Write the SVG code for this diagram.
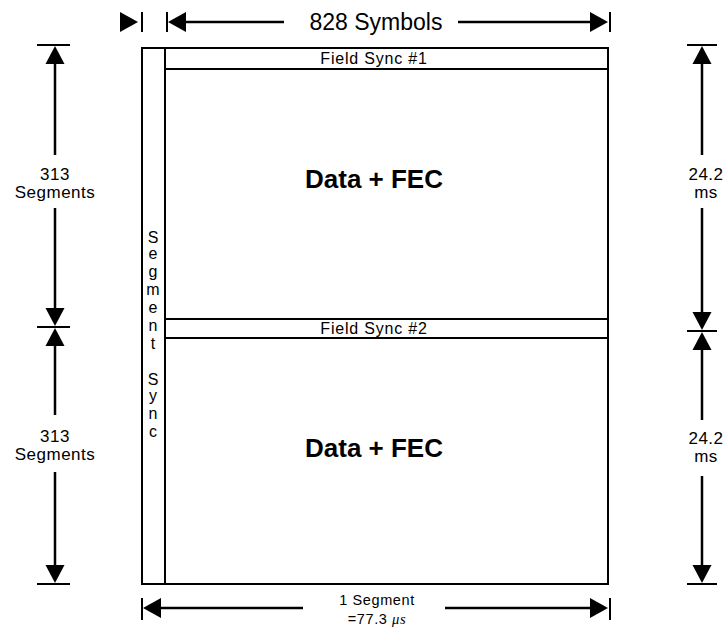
<svg xmlns="http://www.w3.org/2000/svg" width="727" height="628" viewBox="0 0 727 628">
<style>
  .ln { stroke:#000; stroke-width:2; fill:none; }
  .dim { stroke:#000; stroke-width:2.5; fill:none; }
  .tick { stroke:#000; stroke-width:2; }
  text { font-family:"Liberation Sans", Arial, sans-serif; fill:#000; }
  .lbl { font-size:17px; text-anchor:middle; letter-spacing:0.5px; }
  .bot { font-size:14.5px; text-anchor:middle; letter-spacing:0.6px; }
  .fs { font-size:16px; text-anchor:middle; letter-spacing:0.8px; }
  .big { font-size:26px; font-weight:bold; text-anchor:middle; }
  .ss { font-size:16px; text-anchor:middle; }
  .top { font-size:23px; text-anchor:middle; }
</style>
<defs>
  <path id="ahUp" d="M0,0 L-9.5,18 L9.5,18 Z" fill="#000"/>
  <path id="ahDown" d="M0,0 L-9.5,-18 L9.5,-18 Z" fill="#000"/>
  <path id="ahLeft" d="M0,0 L18,-10 L18,10 Z" fill="#000"/>
  <path id="ahRight" d="M0,0 L-18,-10 L-18,10 Z" fill="#000"/>
</defs>
<rect width="727" height="628" fill="#fff"/>

<g id="frame">
  <rect class="ln" x="142" y="48" width="466" height="536"/>
</g>
<g id="segment-sync">
  <line class="ln" x1="165" y1="48" x2="165" y2="584"/>
  <text class="ss" x="153" y="243">S</text>
  <text class="ss" x="153" y="259">e</text>
  <text class="ss" x="153" y="277">g</text>
  <text class="ss" x="153" y="295">m</text>
  <text class="ss" x="153" y="313">e</text>
  <text class="ss" x="153" y="331">n</text>
  <text class="ss" x="153" y="349">t</text>
  <text class="ss" x="153" y="385">S</text>
  <text class="ss" x="153" y="401">y</text>
  <text class="ss" x="153" y="419">n</text>
  <text class="ss" x="153" y="437">c</text>
</g>
<g id="field-sync-1">
  <line class="ln" x1="165" y1="69" x2="608" y2="69"/>
  <text class="fs" x="374" y="64">Field Sync #1</text>
</g>
<g id="data-fec-1">
  <text class="big" x="374" y="188">Data + FEC</text>
</g>
<g id="field-sync-2">
  <line class="ln" x1="165" y1="319" x2="608" y2="319"/>
  <line class="ln" x1="165" y1="338" x2="608" y2="338"/>
  <text class="fs" x="374" y="334">Field Sync #2</text>
</g>
<g id="data-fec-2">
  <text class="big" x="374" y="457">Data + FEC</text>
</g>

<g id="connectors">
  <!-- top: segment sync width -->
  <use href="#ahRight" x="138" y="22"/>
  <line class="tick" x1="142" y1="12" x2="142" y2="32"/>
  <!-- top: 828 symbols -->
  <line class="tick" x1="167" y1="12" x2="167" y2="32"/>
  <use href="#ahLeft" x="168" y="22"/>
  <line class="dim" x1="184" y1="22" x2="284" y2="22"/>
  <line class="dim" x1="458" y1="22" x2="592" y2="22"/>
  <use href="#ahRight" x="608" y="22"/>
  <line class="tick" x1="610" y1="12" x2="610" y2="32"/>
  <text class="top" x="376" y="30">828 Symbols</text>

  <!-- bottom: 1 segment -->
  <line class="tick" x1="142" y1="598" x2="142" y2="620"/>
  <use href="#ahLeft" x="143" y="608"/>
  <line class="dim" x1="159" y1="608" x2="303" y2="608"/>
  <line class="dim" x1="445" y1="608" x2="592" y2="608"/>
  <use href="#ahRight" x="608" y="608"/>
  <line class="tick" x1="610" y1="598" x2="610" y2="620"/>
  <text class="bot" x="377" y="605">1 Segment</text>
  <text class="bot" x="377" y="624">=77.3 <tspan font-style="italic" font-family="'Liberation Serif', serif">μs</tspan></text>

  <!-- left: 313 segments x2 -->
  <line class="tick" x1="37" y1="45" x2="70" y2="45"/>
  <use href="#ahUp" x="55" y="46"/>
  <line class="dim" x1="55" y1="62" x2="55" y2="155"/>
  <text class="lbl" x="55" y="180">313</text>
  <text class="lbl" x="55" y="198">Segments</text>
  <line class="dim" x1="55" y1="208" x2="55" y2="310"/>
  <use href="#ahDown" x="55" y="326"/>
  <line class="tick" x1="37" y1="327" x2="70" y2="327"/>
  <use href="#ahUp" x="55" y="328"/>
  <line class="dim" x1="55" y1="344" x2="55" y2="415"/>
  <text class="lbl" x="55" y="442">313</text>
  <text class="lbl" x="55" y="460">Segments</text>
  <line class="dim" x1="55" y1="472" x2="55" y2="568"/>
  <use href="#ahDown" x="55" y="583"/>
  <line class="tick" x1="37" y1="584" x2="70" y2="584"/>

  <!-- right: 24.2 ms x2 -->
  <line class="tick" x1="687" y1="45" x2="717" y2="45"/>
  <use href="#ahUp" x="702" y="46"/>
  <line class="dim" x1="702" y1="62" x2="702" y2="155"/>
  <text class="lbl" x="706" y="180">24.2</text>
  <text class="lbl" x="706" y="198">ms</text>
  <line class="dim" x1="702" y1="208" x2="702" y2="314"/>
  <use href="#ahDown" x="702" y="330"/>
  <line class="tick" x1="687" y1="331" x2="717" y2="331"/>
  <use href="#ahUp" x="702" y="332"/>
  <line class="dim" x1="702" y1="348" x2="702" y2="420"/>
  <text class="lbl" x="706" y="444">24.2</text>
  <text class="lbl" x="706" y="462">ms</text>
  <line class="dim" x1="702" y1="476" x2="702" y2="568"/>
  <use href="#ahDown" x="702" y="583"/>
  <line class="tick" x1="687" y1="584" x2="717" y2="584"/>
</g>
</svg>
